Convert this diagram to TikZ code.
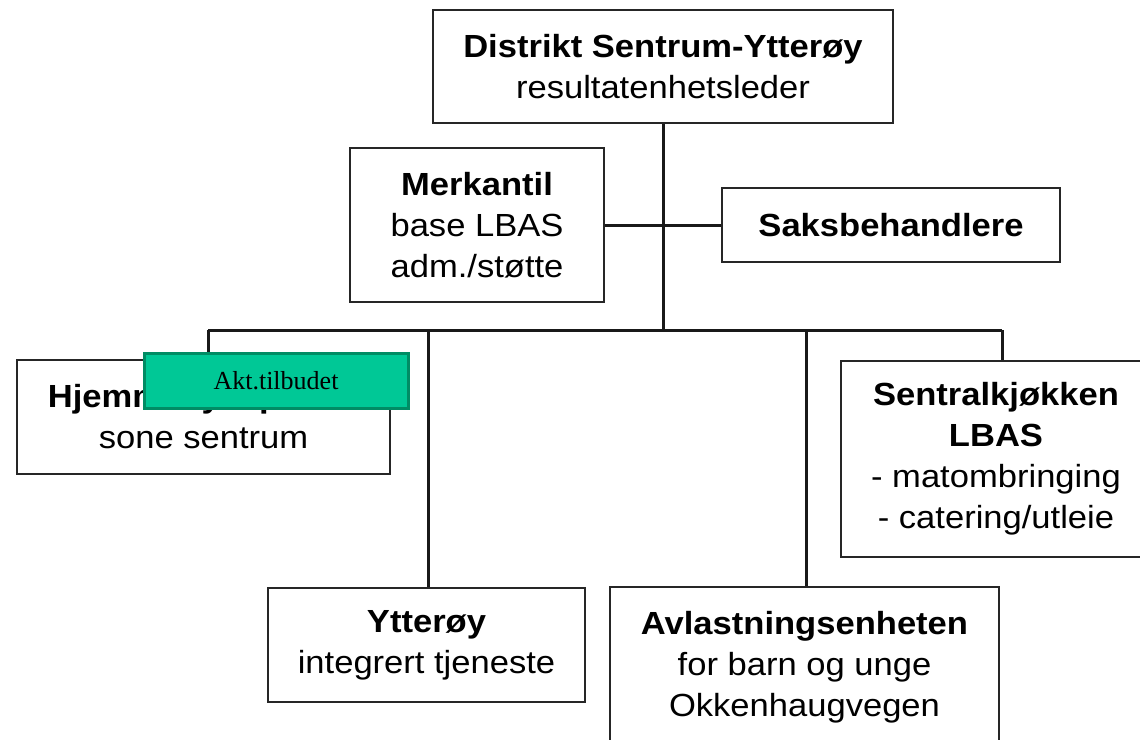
\documentclass[tikz,border=0pt]{standalone}
\usepackage{fontspec}
\setmainfont{Liberation Sans}[FakeStretch=1.08]
\newfontfamily\serifakt{Liberation Serif}
\definecolor{aktfill}{RGB}{0,200,150}
\definecolor{aktdraw}{RGB}{0,140,100}
\tikzset{
  orgbox/.style={draw=black!85, line width=2.7pt, fill=white, inner sep=0pt, align=center,
    font=\fontsize{32}{41}\selectfont},
  conn/.style={draw=black!90, line width=3pt},
  aktbox/.style={draw=aktdraw, line width=3pt, fill=aktfill, inner sep=0pt,
    font=\serifakt\fontsize{26}{30}\selectfont}
}
\begin{document}
\begin{tikzpicture}[x=1pt,y=-1pt]
\useasboundingbox (0,0) rectangle (1140,739);
\clip (0,0) rectangle (1140,739);
\fill[white] (0,0) rectangle (1140,739);
% nodes
\node[orgbox, minimum width=460pt, minimum height=113pt] (top) at (663,66.5)
  {{\bfseries Distrikt Sentrum-Ytterøy}\\resultatenhetsleder};
\node[orgbox, minimum width=254pt, minimum height=154pt] (merk) at (477,225)
  {{\bfseries Merkantil}\\base LBAS\\adm./støtte};
\node[orgbox, minimum width=338pt, minimum height=74pt] (saks) at (891,225)
  {\bfseries Saksbehandlere};
\node[orgbox, minimum width=373pt, minimum height=114pt] (hjem) at (203.5,417)
  {{\bfseries Hjemmesykepleien}\\sone sentrum};
\node[orgbox, minimum width=310pt, minimum height=196pt] (sent) at (996,459)
  {{\bfseries Sentralkjøkken}\\{\bfseries LBAS}\\- matombringing\\- catering/utleie};
\node[orgbox, minimum width=317pt, minimum height=114pt] (ytt) at (426.5,645)
  {{\bfseries Ytterøy}\\integrert tjeneste};
\node[orgbox, minimum width=389pt, minimum height=160pt] (avl) at (804.5,667)
  {{\bfseries Avlastningsenheten}\\for barn og unge\\Okkenhaugvegen};
% bus coordinates
\coordinate (busc) at (663,330);
\coordinate (busl) at (208,330);
\coordinate (busy) at (428,330);
\coordinate (busa) at (806,330);
\coordinate (busr) at (1002,330);
% connectors
\draw[conn] (top.south) -- (busc);
\draw[conn] (merk.east) -- (saks.west);
\draw[conn] (busl) -- (busr);
\draw[conn] (busl) -- (busl |- hjem.north);
\draw[conn] (busy) -- (busy |- ytt.north);
\draw[conn] (busa) -- (busa |- avl.north);
\draw[conn] (busr) -- (busr |- sent.north);
% overlay label
\node[aktbox, minimum width=264pt, minimum height=55pt] (akt) at (276,380.5) {Akt.tilbudet};
\end{tikzpicture}
\end{document}
